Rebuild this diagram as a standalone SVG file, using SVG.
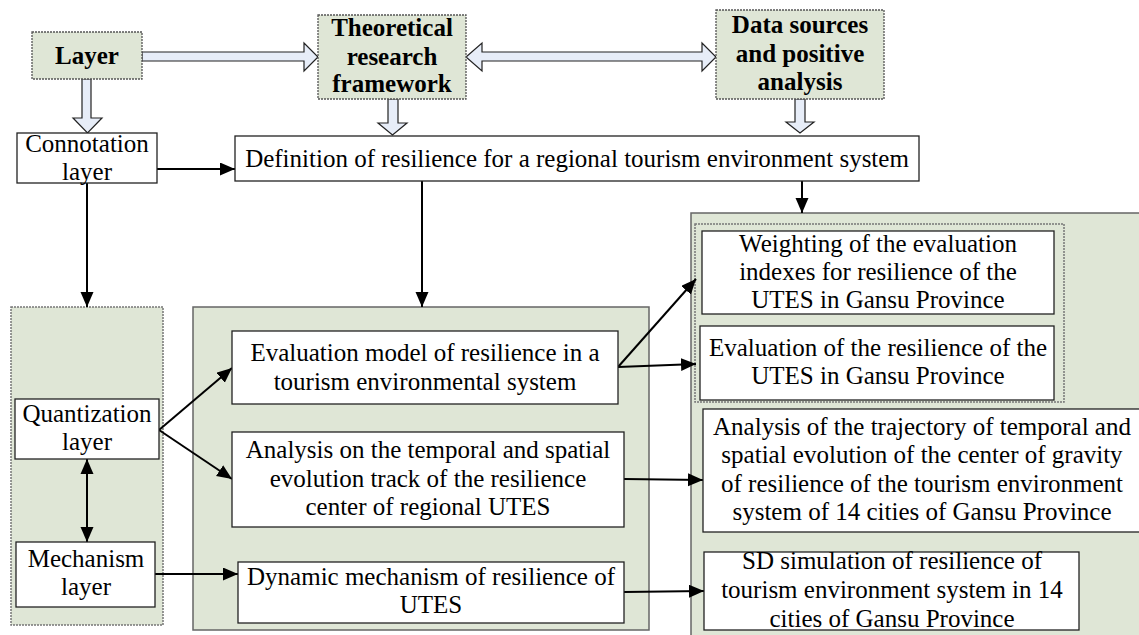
<svg xmlns="http://www.w3.org/2000/svg" width="1139" height="635" viewBox="0 0 1139 635">
<defs>
<style>
text{font-family:'Liberation Serif','DejaVu Serif',serif;font-size:25px;fill:#000;text-anchor:middle}
.b{font-weight:bold}
.panel{fill:#dfe6d6;stroke:#666;stroke-width:1.5}
.dpanel{fill:#dfe6d6;stroke:#777;stroke-width:1.5;stroke-dasharray:2 1}
.box{fill:#fff;stroke:#222;stroke-width:1.3}
.hd{fill:#dfe6d6;stroke:#555;stroke-width:1.3;stroke-dasharray:2 1}
.blk{fill:#e7edf8;stroke:#222;stroke-width:1.2}
.ln{fill:none;stroke:#000;stroke-width:2}
</style>
<marker id="ah" markerUnits="userSpaceOnUse" markerWidth="16" markerHeight="14" refX="15" refY="6.5" orient="auto">
<path d="M0,0 L15,6.5 L0,13 z" fill="#000"/>
</marker>
<marker id="ahs" markerUnits="userSpaceOnUse" markerWidth="16" markerHeight="14" refX="0" refY="6.5" orient="auto">
<path d="M15,0 L0,6.5 L15,13 z" fill="#000"/>
</marker>
</defs>

<g id="panels">
<rect id="left-panel" class="dpanel" x="11" y="307" width="152" height="318"/>
<rect id="middle-panel" class="panel" x="193" y="307" width="456" height="323"/>
<rect id="right-panel" class="panel" x="691" y="213" width="460" height="430"/>
<rect id="right-inner" class="dpanel" x="695" y="224" width="369" height="178"/>
</g>

<g id="connectors">
<path class="blk" d="M142,52 L304,52 L304,43 L318,57 L304,71 L304,61 L142,61 z"/>
<path class="blk" d="M466,57 L482,43 L482,52 L702,52 L702,43 L716,57 L702,71 L702,61 L482,61 L482,71 z"/>
<path class="blk" d="M82,79 L82,118 L73,118 L87.5,133 L102,118 L91,118 L91,79 z"/>
<path class="blk" d="M388,99 L388,123 L378,123 L392.5,135 L407,123 L398,123 L398,99 z"/>
<path class="blk" d="M795,99 L795,122 L786,122 L800,133 L814,122 L805,122 L805,99 z"/>
<line class="ln" x1="157" y1="169" x2="235" y2="169" marker-end="url(#ah)"/>
<line class="ln" x1="87" y1="183" x2="87" y2="307" marker-end="url(#ah)"/>
<line class="ln" x1="422" y1="181" x2="422" y2="307" marker-end="url(#ah)"/>
<line class="ln" x1="802" y1="181" x2="802" y2="213" marker-end="url(#ah)"/>
<line class="ln" x1="159" y1="430" x2="232" y2="368" marker-end="url(#ah)"/>
<line class="ln" x1="159" y1="430" x2="232" y2="479" marker-end="url(#ah)"/>
<line class="ln" x1="87" y1="459" x2="87" y2="542" marker-start="url(#ahs)" marker-end="url(#ah)" stroke-width="1.5"/>
<line class="ln" x1="155" y1="574" x2="238" y2="574" marker-end="url(#ah)"/>
<line class="ln" x1="618" y1="367" x2="696" y2="279" marker-end="url(#ah)"/>
<line class="ln" x1="618" y1="367" x2="696" y2="364" marker-end="url(#ah)"/>
<line class="ln" x1="624" y1="479" x2="703" y2="480" marker-end="url(#ah)"/>
<line class="ln" x1="624" y1="592" x2="704" y2="591" marker-end="url(#ah)"/>
</g>

<g id="layer">
<rect class="hd" x="32" y="32" width="110" height="47"/>
<text class="b" x="87" y="64">Layer</text>
</g>
<g id="theoretical">
<rect class="hd" x="318" y="15" width="148" height="84"/>
<text class="b" x="392" y="36">Theoretical</text>
<text class="b" x="392" y="65">research</text>
<text class="b" x="392" y="92">framework</text>
</g>
<g id="data-sources">
<rect class="hd" x="716" y="10" width="168" height="89"/>
<text class="b" x="800" y="33">Data sources</text>
<text class="b" x="800" y="62">and positive</text>
<text class="b" x="800" y="90">analysis</text>
</g>
<g id="connotation">
<rect class="box" x="17" y="133" width="140" height="50"/>
<text x="87" y="152">Connotation</text>
<text x="87" y="180">layer</text>
</g>
<g id="definition">
<rect class="box" x="235" y="136" width="684" height="45"/>
<text x="577" y="167">Definition of resilience for a regional tourism environment system</text>
</g>
<g id="quantization">
<rect class="box" x="15" y="399" width="144" height="60"/>
<text x="87" y="422">Quantization</text>
<text x="87" y="450">layer</text>
</g>
<g id="mechanism">
<rect class="box" x="16" y="542" width="139" height="65"/>
<text x="86" y="567">Mechanism</text>
<text x="86" y="595">layer</text>
</g>
<g id="evaluation-model">
<rect class="box" x="232" y="331" width="386" height="73"/>
<text x="425" y="361">Evaluation model of resilience in a</text>
<text x="425" y="390">tourism environmental system</text>
</g>
<g id="analysis-track">
<rect class="box" x="232" y="432" width="392" height="95"/>
<text x="428" y="458">Analysis on the temporal and spatial</text>
<text x="428" y="487">evolution track of the resilience</text>
<text x="428" y="515">center of regional UTES</text>
</g>
<g id="dynamic-mechanism">
<rect class="box" x="238" y="562" width="386" height="61"/>
<text x="431" y="585">Dynamic mechanism of resilience of</text>
<text x="431" y="613">UTES</text>
</g>
<g id="weighting">
<rect class="box" x="702" y="231" width="352" height="83"/>
<text x="878" y="252">Weighting of the evaluation</text>
<text x="878" y="280">indexes for resilience of the</text>
<text x="878" y="308">UTES in Gansu Province</text>
</g>
<g id="evaluation-of">
<rect class="box" x="700" y="326" width="354" height="74"/>
<text x="878" y="356">Evaluation of the resilience of the</text>
<text x="878" y="384">UTES in Gansu Province</text>
</g>
<g id="analysis-trajectory">
<rect class="box" x="703" y="409" width="440" height="123"/>
<text x="922" y="435">Analysis of the trajectory of temporal and</text>
<text x="922" y="463">spatial evolution of the center of gravity</text>
<text x="922" y="492">of resilience of the tourism environment</text>
<text x="922" y="520">system of 14 cities of Gansu Province</text>
</g>
<g id="sd-simulation">
<rect class="box" x="704" y="552" width="375" height="78"/>
<text x="892" y="569">SD simulation of resilience of</text>
<text x="892" y="598">tourism environment system in 14</text>
<text x="892" y="627">cities of Gansu Province</text>
</g>
</svg>
